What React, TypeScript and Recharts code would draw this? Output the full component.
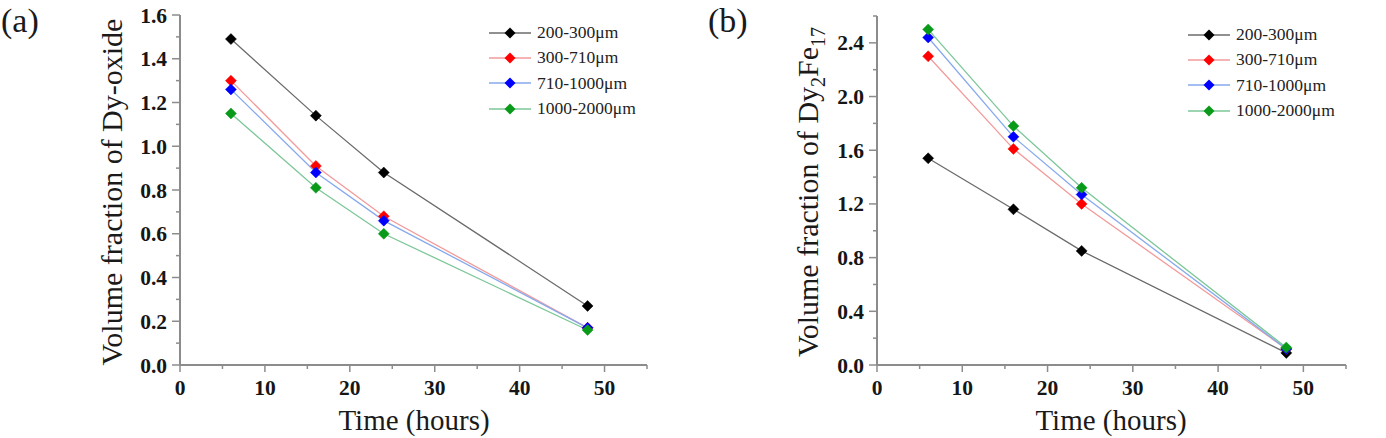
import React from 'react';
import { LineChart, Line, XAxis, YAxis, Legend } from 'recharts';

// sampling times (hours)
const TIME = [6, 16, 24, 48];

// (a) volume fraction of Dy-oxide
const OXIDE_200_300 = [1.49, 1.14, 0.88, 0.27];
const OXIDE_300_710 = [1.3, 0.91, 0.68, 0.17];
const OXIDE_710_1000 = [1.26, 0.88, 0.66, 0.17];
const OXIDE_1000_2000 = [1.15, 0.81, 0.6, 0.16];

// (b) volume fraction of Dy2Fe17
const FE_200_300 = [1.54, 1.16, 0.85, 0.09];
const FE_300_710 = [2.3, 1.61, 1.2, 0.12];
const FE_710_1000 = [2.44, 1.7, 1.27, 0.12];
const FE_1000_2000 = [2.5, 1.78, 1.32, 0.13];

const SIZE_LABELS = ['200-300μm', '300-710μm', '710-1000μm', '1000-2000μm'];

const X_TICKS = [0, 5, 10, 15, 20, 25, 30, 35, 40, 45, 50, 55];
const A_Y_TICKS = [0, 0.1, 0.2, 0.3, 0.4, 0.5, 0.6, 0.7, 0.8, 0.9, 1.0, 1.1, 1.2, 1.3, 1.4, 1.5, 1.6];
const B_Y_TICKS = [0, 0.2, 0.4, 0.6, 0.8, 1.0, 1.2, 1.4, 1.6, 1.8, 2.0, 2.2, 2.4, 2.6];

const SERIES = [
  { key: 's1', line: '#6b6b6b', marker: '#000000' },
  { key: 's2', line: '#f39a9a', marker: '#ff0000' },
  { key: 's3', line: '#86a9ee', marker: '#0000ff' },
  { key: 's4', line: '#7cc798', marker: '#0a9a1a' },
];

const buildRows = (cols: number[][]) =>
  TIME.map((t, i) => ({ t, s1: cols[0][i], s2: cols[1][i], s3: cols[2][i], s4: cols[3][i] }));

const oxideRows = buildRows([OXIDE_200_300, OXIDE_300_710, OXIDE_710_1000, OXIDE_1000_2000]);
const feRows = buildRows([FE_200_300, FE_300_710, FE_710_1000, FE_1000_2000]);

const FRAME = '#8c8c8c';
const SERIF = '"Liberation Serif", "Times New Roman", serif';

const diamond = (color: string) => (p: any) => {
  const { cx, cy } = p;
  if (cx == null || cy == null) return <g key={p.index} />;
  const r = 5.5;
  return (
    <path
      key={`d-${p.index}`}
      d={`M${cx},${cy - r}L${cx + r},${cy}L${cx},${cy + r}L${cx - r},${cy}Z`}
      fill={color}
      stroke={color}
      strokeWidth={0.5}
    />
  );
};

const XTick = (props: any) => {
  const { x, y, payload } = props;
  const major = payload.value % 10 === 0 && payload.value <= 50;
  return (
    <g>
      <line x1={x} x2={x} y1={y} y2={y + (major ? 7 : 4)} stroke={FRAME} strokeWidth={1.5} />
      {major && (
        <text x={x} y={y + 30} textAnchor="middle" fontFamily={SERIF} fontWeight="bold" fontSize={21.5} fill="#161616">
          {payload.value}
        </text>
      )}
    </g>
  );
};

const makeYTick = (majorEvery: number) => (props: any) => {
  const { x, y, payload } = props;
  const major = Math.round(payload.value * 10) % majorEvery === 0;
  return (
    <g>
      <line x1={x - (major ? 8 : 4)} x2={x} y1={y} y2={y} stroke={FRAME} strokeWidth={1.5} />
      {major && (
        <text x={x - 13} y={y + 7.5} textAnchor="end" fontFamily={SERIF} fontWeight="bold" fontSize={21.5} fill="#161616">
          {payload.value.toFixed(1)}
        </text>
      )}
    </g>
  );
};

const LegendBox = (props: any) => {
  const order = (item: any) => SERIES.findIndex((v) => v.key === item.dataKey);
  const items = [...(props.payload || [])].sort((a: any, b: any) => order(a) - order(b));
  return (
    <div style={{ fontFamily: SERIF, fontSize: 17.5, color: '#222' }}>
      {items.map((item: any, i: number) => {
        const s = SERIES[order(item)] || SERIES[0];
        return (
          <div key={i} style={{ display: 'flex', alignItems: 'center', height: 25.3 }}>
            <svg width={42} height={14} style={{ marginRight: 6 }}>
              <line x1={0} x2={42} y1={7} y2={7} stroke={s.line} strokeWidth={1.3} />
              <path d="M21,1.5L26.5,7L21,12.5L15.5,7Z" fill={s.marker} />
            </svg>
            <span>{item.value}</span>
          </div>
        );
      })}
    </div>
  );
};

interface PanelProps {
  rows: any[];
  yTicks: number[];
  yMax: number;
  majorEvery: number;
  margin: { top: number; right: number; bottom: number; left: number };
  legendPos: { top: number; left: number };
}

function Panel({ rows, yTicks, yMax, majorEvery, margin, legendPos }: PanelProps) {
  return (
    <LineChart width={693} height={438} data={rows} margin={margin}>
      <XAxis
        dataKey="t"
        type="number"
        domain={[0, 55]}
        ticks={X_TICKS}
        interval={0}
        axisLine={{ stroke: FRAME, strokeWidth: 2 }}
        tickLine={false}
        tickSize={0}
        tickMargin={0}
        tick={<XTick />}
        height={40}
      />
      <XAxis
        xAxisId="top"
        orientation="top"
        type="number"
        domain={[0, 55]}
        tick={false}
        tickLine={false}
        axisLine={{ stroke: FRAME, strokeWidth: 2 }}
        height={0}
      />
      <YAxis
        type="number"
        domain={[0, yMax]}
        ticks={yTicks}
        interval={0}
        axisLine={{ stroke: FRAME, strokeWidth: 2 }}
        tickLine={false}
        tickSize={0}
        tickMargin={0}
        tick={makeYTick(majorEvery)}
        width={60}
      />
      <YAxis
        yAxisId="right"
        orientation="right"
        type="number"
        domain={[0, yMax]}
        tick={false}
        tickLine={false}
        axisLine={{ stroke: FRAME, strokeWidth: 2 }}
        width={0}
      />
      <Legend
        layout="vertical"
        align="center"
        verticalAlign="middle"
        content={<LegendBox />}
        wrapperStyle={{ position: 'absolute', top: legendPos.top, left: legendPos.left, width: 'auto' }}
      />
      {SERIES.map((s, i) => (
        <Line
          key={s.key}
          dataKey={s.key}
          name={SIZE_LABELS[i]}
          type="linear"
          stroke={s.line}
          strokeWidth={1.3}
          dot={diamond(s.marker)}
          activeDot={false}
          isAnimationActive={false}
        />
      ))}
    </LineChart>
  );
}

const abs = (style: React.CSSProperties): React.CSSProperties => ({
  position: 'absolute',
  fontFamily: SERIF,
  color: '#1a1a1a',
  whiteSpace: 'nowrap',
  lineHeight: 1,
  ...style,
});

export default function App() {
  return (
    <div style={{ position: 'relative', width: 1386, height: 438, background: '#fff', overflow: 'hidden' }}>
      <style>{'body{margin:0}'}</style>
      <div style={{ position: 'absolute', left: 0, top: 0 }}>
        <Panel
          rows={oxideRows}
          yTicks={A_Y_TICKS}
          yMax={1.6}
          majorEvery={2}
          margin={{ top: 15, right: 46, bottom: 33, left: 120 }}
          legendPos={{ top: 20, left: 489 }}
        />
      </div>
      <div style={{ position: 'absolute', left: 693, top: 0 }}>
        <Panel
          rows={feRows}
          yTicks={B_Y_TICKS}
          yMax={2.6}
          majorEvery={4}
          margin={{ top: 16, right: 40, bottom: 33, left: 124 }}
          legendPos={{ top: 22, left: 495 }}
        />
      </div>

      <div style={abs({ left: 1, top: 4, fontSize: 34 })}>(a)</div>
      <div style={abs({ left: 708, top: 4, fontSize: 34 })}>(b)</div>

      <div style={abs({ left: 112, top: 192, fontSize: 30, transform: 'translate(-50%, -50%) rotate(-90deg)' })}>
        Volume fraction of Dy-oxide
      </div>
      <div style={abs({ left: 810, top: 192, fontSize: 30, transform: 'translate(-50%, -50%) rotate(-90deg)' })}>
        Volume fraction of Dy<sub style={{ fontSize: 20 }}>2</sub>Fe<sub style={{ fontSize: 20 }}>17</sub>
      </div>

      <div style={abs({ left: 414, top: 420, fontSize: 29, transform: 'translate(-50%, -50%)' })}>Time (hours)</div>
      <div style={abs({ left: 1111, top: 420, fontSize: 29, transform: 'translate(-50%, -50%)' })}>Time (hours)</div>
    </div>
  );
}
